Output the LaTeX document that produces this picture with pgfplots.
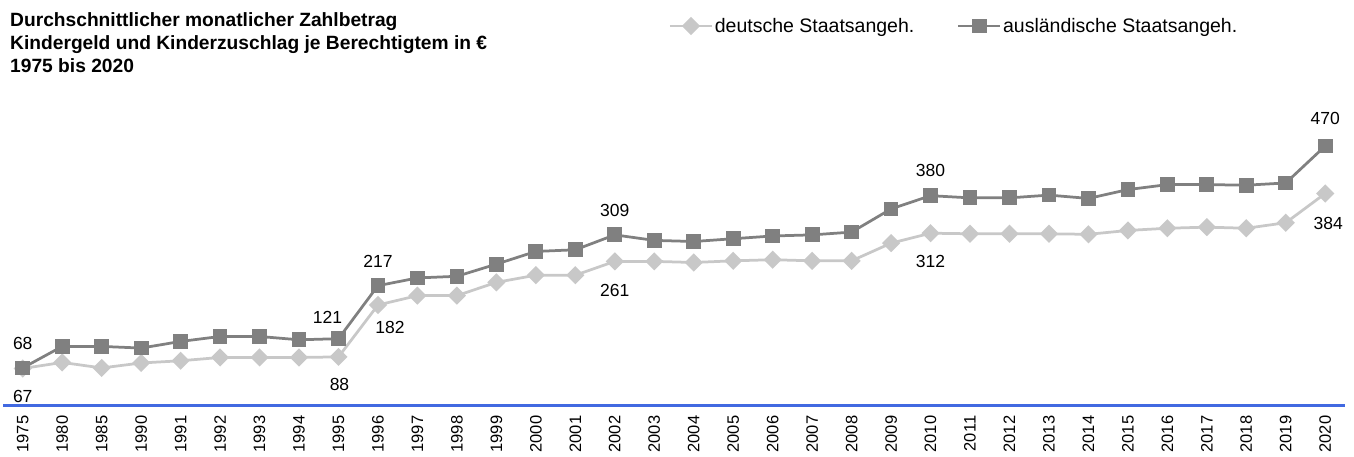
\documentclass[border=0pt]{standalone}
\usepackage{fontspec}
\setmainfont{Liberation Sans}
\usepackage{pgfplots}
\pgfplotsset{compat=1.18}
\usepackage{pgfplotstable}

\definecolor{dgray}{RGB}{128,128,128}
\definecolor{lgray}{RGB}{200,200,200}
\definecolor{axisblue}{RGB}{65,105,225}

% idx: category position, de = deutsche, aus = auslaendische Staatsangeh.
\pgfplotstableread{
idx year de aus
0 1975 67 68
1 1980 78 107
2 1985 68 107
3 1990 77 104
4 1991 81 116
5 1992 87 125
6 1993 87 125
7 1994 87 119
8 1995 88 121
9 1996 182 217
10 1997 199 231
11 1998 199 234
12 1999 223 256
13 2000 236 279
14 2001 236 282
15 2002 261 309
16 2003 261 299
17 2004 259 297
18 2005 262 302
19 2006 264 307
20 2007 262 309
21 2008 262 314
22 2009 294 356
23 2010 312 380
24 2011 311 376
25 2012 311 376
26 2013 311 381
27 2014 310 375
28 2015 317 391
29 2016 321 400
30 2017 323 400
31 2018 321 399
32 2019 331 403
33 2020 384 470
}\data

% value labels with offsets (bp)
\pgfplotstableread{
x y lbl dx dy
0 68 68 0 24
8 121 121 -11 21
9 217 217 0 24
15 309 309 0 24
23 380 380 0 25
33 470 470 0 27
0 67 67 0 -27.5
8 88 88 1 -28
9 182 182 12 -22
15 261 261 0 -29.5
23 312 312 0 -28
33 384 384 3 -30
}\labels

\begin{document}
\begin{tikzpicture}
\path[use as bounding box] (0,0) rectangle (1354bp,457bp);

\node[anchor=base west, font=\bfseries\fontsize{19.2bp}{22bp}\selectfont, inner sep=0pt]
  at (10bp,430.3bp) {Durchschnittlicher monatlicher Zahlbetrag};
\node[anchor=base west, font=\bfseries\fontsize{19.2bp}{22bp}\selectfont, inner sep=0pt]
  at (10bp,407.3bp) {Kindergeld und Kinderzuschlag je Berechtigtem in €};
\node[anchor=base west, font=\bfseries\fontsize{19.2bp}{22bp}\selectfont, inner sep=0pt]
  at (10bp,384.3bp) {1975 bis 2020};

\begin{axis}[
  at={(3bp,51.5bp)}, anchor=south west,
  scale only axis, width=1342bp, height=276.1bp,
  xmin=-0.5, xmax=33.5, ymin=0, ymax=500,
  axis x line=bottom, axis y line=none,
  x axis line style={draw=axisblue, line width=3bp, -},
  xtick={0,...,33},
  xticklabels={1975,1980,1985,1990,1991,1992,1993,1994,1995,1996,1997,1998,1999,2000,2001,2002,2003,2004,2005,2006,2007,2008,2009,2010,2011,2012,2013,2014,2015,2016,2017,2018,2019,2020},
  major tick length=0pt,
  xticklabel style={rotate=90, anchor=east, inner sep=0pt, font=\fontsize{16.5bp}{18bp}\selectfont},
  xticklabel shift=10bp,
  clip=false,
  legend columns=2,
  legend cell align=left,
  legend image code/.code={\draw[mark repeat=2,mark phase=2,#1] plot coordinates {(0bp,0bp) (21bp,0bp) (42bp,0bp)};},
  legend style={at={(0.9210,1.3745)}, anchor=east, draw=none, fill=none, inner sep=0pt,
    font=\fontsize{19.5bp}{22bp}\selectfont, nodes={inner sep=1.5bp},
    /tikz/every even column/.append style={column sep=41bp}},
]
\addplot[lgray, line width=2.75bp, mark=square*, mark size=5.05bp,
  mark options={rotate=45, fill=lgray, draw=none}]
  table[x=idx, y=de] {\data};
\addlegendentry{deutsche Staatsangeh.}
\addplot[dgray, line width=2.75bp, mark=square*, mark size=6bp,
  mark options={fill=dgray, draw=none}]
  table[x=idx, y=aus] {\data};
\addlegendentry{ausländische Staatsangeh.}

\addplot[draw=none, mark=none, forget plot, nodes near coords, point meta=explicit symbolic,
  visualization depends on={\thisrow{dx} \as \dx},
  visualization depends on={\thisrow{dy} \as \dy},
  nodes near coords style={anchor=center, xshift=\dx bp, yshift=\dy bp, text=black,
    inner sep=0pt, font=\fontsize{17.5bp}{20bp}\selectfont}]
  table[x=x, y=y, meta=lbl] {\labels};
\end{axis}
\end{tikzpicture}
\end{document}
